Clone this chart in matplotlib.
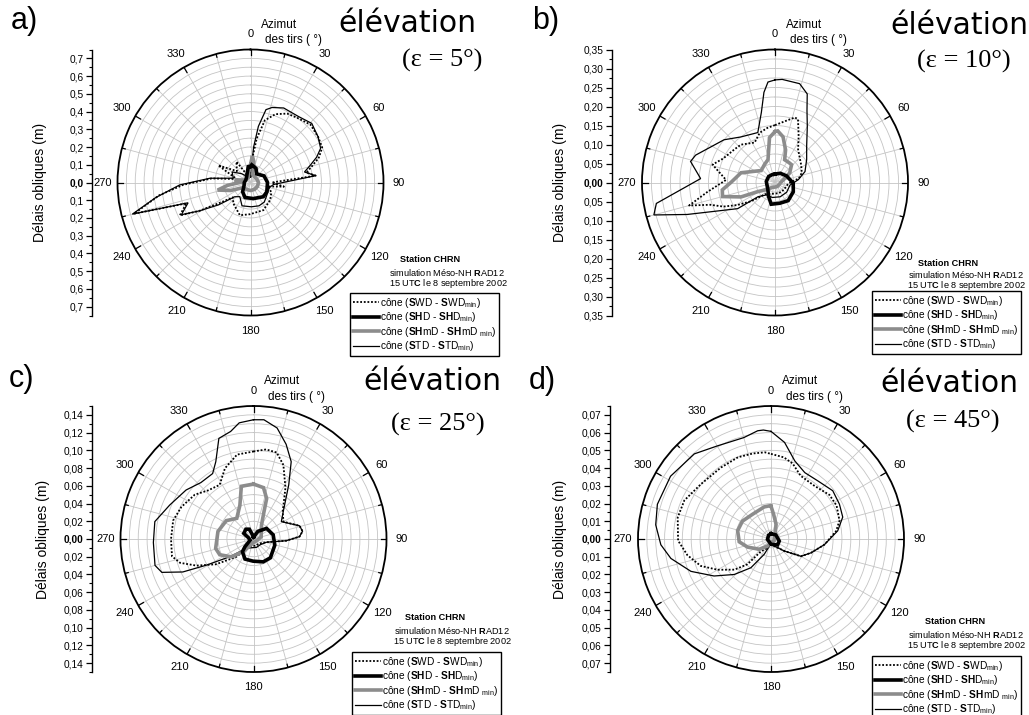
import numpy as np
import matplotlib
matplotlib.use('Agg')
import matplotlib.pyplot as plt
from matplotlib.lines import Line2D

plt.rcParams['font.family'] = ['Liberation Sans', 'DejaVu Sans']
plt.rcParams['mathtext.fontset'] = 'custom'
plt.rcParams['mathtext.rm'] = 'Liberation Sans'
plt.rcParams['mathtext.bf'] = 'Liberation Sans:bold'
plt.rcParams['mathtext.it'] = 'Liberation Sans:italic'
plt.rcParams['mathtext.sf'] = 'Liberation Sans'

# ---------------- data (azimuth in degrees, slant delays in m) ----------------
# panel a) elevation 5 deg
A_SWD_ANG = [0, 5, 8, 13, 20, 28, 36, 46, 56, 64, 70, 75, 80, 84, 90, 97, 103, 115, 132, 155, 181, 198,
             219, 230, 236, 241, 245, 252, 255, 262, 268, 276, 284, 298, 310, 326, 335, 345]
A_SWD_VAL = [0.03, 0.15, 0.25, 0.36, 0.41, 0.44, 0.45, 0.47, 0.46, 0.45, 0.41, 0.36, 0.32, 0.37, 0.12, 0.19,
             0.10, 0.13, 0.149, 0.172, 0.179, 0.194, 0.153, 0.13, 0.20, 0.33, 0.44, 0.38, 0.68, 0.52, 0.38,
             0.22, 0.08, 0.206, 0.10, 0.142, 0.05, 0.03]
A_SHD_ANG = [0, 4, 21, 36, 64, 90, 120, 138, 170, 200, 220, 245, 270, 300, 327, 352]
A_SHD_VAL = [0.09, 0.10, 0.086, 0.06, 0.085, 0.096, 0.106, 0.108, 0.092, 0.09, 0.069, 0.04, 0.035, 0.03,
             0.04, 0.09]
A_SHMD_ANG = [0, 4, 9, 15, 30, 60, 90, 120, 150, 180, 210, 235, 248, 257, 263, 270, 280, 290, 310, 335, 350]
A_SHMD_VAL = [0.10, 0.15, 0.12, 0.05, 0.04, 0.04, 0.045, 0.045, 0.045, 0.045, 0.045, 0.05, 0.12, 0.19,
              0.13, 0.06, 0.09, 0.04, 0.03, 0.03, 0.06]
A_STD_ANG = [0, 5, 8, 12, 16, 24, 36, 46, 56, 64, 69, 74, 79, 84, 95, 105, 132, 145, 160, 178, 200, 217,
             228, 235, 241, 245, 252, 255, 261, 268, 276, 284, 300, 315, 330, 345]
A_STD_VAL = [0.03, 0.20, 0.32, 0.42, 0.44, 0.46, 0.46, 0.48, 0.46, 0.44, 0.40, 0.35, 0.31, 0.37, 0.13,
             0.11, 0.12, 0.135, 0.14, 0.137, 0.14, 0.10, 0.12, 0.22, 0.33, 0.43, 0.37, 0.69, 0.54, 0.40,
             0.23, 0.10, 0.12, 0.07, 0.04, 0.03]

# panel b) elevation 10 deg
B_SWD_ANG = [0, 9, 17, 20, 27, 35, 45, 56, 70, 80, 95, 130, 160, 190, 220, 232, 239, 245, 251, 255,
             262, 273, 286, 295, 309, 318, 333, 343, 352]
B_SWD_VAL = [0.151, 0.163, 0.179, 0.177, 0.137, 0.106, 0.092, 0.083, 0.075, 0.064, 0.035, 0.03, 0.03,
             0.03, 0.04, 0.08, 0.115, 0.15, 0.18, 0.234, 0.18, 0.129, 0.171, 0.15, 0.138, 0.134, 0.118,
             0.137, 0.145]
B_SHD_ANG = [0, 9, 30, 60, 92, 117, 144, 167, 190, 204, 230, 260, 277, 313, 340]
B_SHD_VAL = [0.022, 0.023, 0.028, 0.035, 0.048, 0.054, 0.059, 0.056, 0.058, 0.041, 0.025, 0.022, 0.023,
             0.023, 0.022]
B_SHMD_ANG = [0, 3, 10, 18, 23, 35, 43, 57, 70, 90, 120, 150, 180, 210, 231, 242, 247, 255, 262, 271,
              286, 311, 330, 343, 353]
B_SHMD_VAL = [0.134, 0.136, 0.122, 0.09, 0.065, 0.064, 0.064, 0.046, 0.025, 0.015, 0.012, 0.012, 0.012,
              0.015, 0.03, 0.051, 0.097, 0.143, 0.14, 0.114, 0.093, 0.048, 0.055, 0.063, 0.119]
B_STD_ANG = [0, 4, 14, 20, 24, 30, 41, 54, 70, 83, 100, 130, 160, 190, 215, 230, 235, 250, 255, 260,
             273, 284, 289, 310, 323, 341, 349, 353, 356]
B_STD_VAL = [0.27, 0.272, 0.268, 0.248, 0.207, 0.17, 0.127, 0.103, 0.084, 0.062, 0.04, 0.04, 0.04, 0.04,
             0.04, 0.058, 0.12, 0.246, 0.33, 0.317, 0.196, 0.229, 0.221, 0.175, 0.15, 0.139, 0.188, 0.239,
             0.265]

# panel c) elevation 25 deg
C_SWD_ANG = [0, 8, 15, 22, 32, 47, 60, 74, 81, 87, 93, 104, 130, 160, 190, 211, 224, 236, 245, 252, 258,
             270, 283, 294, 307, 317, 328, 338, 349]
C_SWD_VAL = [0.0987, 0.102, 0.101, 0.090, 0.068, 0.045, 0.039, 0.054, 0.056, 0.052, 0.037, 0.015, 0.008,
             0.008, 0.008, 0.011, 0.028, 0.051, 0.071, 0.087, 0.094, 0.093, 0.093, 0.089, 0.083, 0.075,
             0.072, 0.086, 0.097]
C_SHD_ANG = [0, 30, 51, 78, 106, 138, 157, 181, 203, 221, 228, 250, 285, 300, 322, 337, 350]
C_SHD_VAL = [0.002, 0.010, 0.019, 0.0227, 0.025, 0.0285, 0.028, 0.025, 0.0246, 0.019, 0.013, 0.004,
             0.006, 0.0127, 0.014, 0.012, 0.004]
C_SHMD_ANG = [0, 11, 18, 21, 30, 74, 120, 180, 219, 231, 245, 256, 282, 304, 321, 338, 347]
C_SHMD_VAL = [0.062, 0.059, 0.048, 0.033, 0.018, 0.009, 0.004, 0.004, 0.018, 0.032, 0.042, 0.044, 0.041,
              0.037, 0.030, 0.041, 0.061]
C_STD_ANG = [0, 5, 12, 19, 26, 33, 47, 58, 74, 81, 87, 93, 104, 130, 160, 190, 217, 233, 241, 245, 250,
             255, 268, 280, 292, 306, 317, 328, 334, 341, 348, 353]
C_STD_VAL = [0.1345, 0.135, 0.128, 0.113, 0.097, 0.073, 0.046, 0.037, 0.054, 0.056, 0.052, 0.037, 0.015,
             0.01, 0.01, 0.01, 0.013, 0.033, 0.061, 0.088, 0.110, 0.115, 0.113, 0.113, 0.102, 0.094, 0.087,
             0.087, 0.097, 0.12, 0.124, 0.132]

# panel d) elevation 45 deg
D_SWD_ANG = [0, 9, 16, 25, 39, 53, 63, 75, 83, 96, 109, 120, 132, 160, 185, 205, 219, 223, 230, 240,
             249, 259, 269, 283, 294, 308, 325, 338, 348, 356]
D_SWD_VAL = [0.048, 0.0466, 0.0443, 0.0394, 0.0387, 0.0413, 0.0415, 0.040, 0.037, 0.0303, 0.0239, 0.0195,
             0.0101, 0.004, 0.003, 0.006, 0.0088, 0.0195, 0.0269, 0.0347, 0.0424, 0.048, 0.0524, 0.054,
             0.0535, 0.0502, 0.0492, 0.0497, 0.0493, 0.049]
D_SHD_ANG = [0, 51, 104, 132, 180, 264, 327]
D_SHD_VAL = [0.003, 0.0036, 0.0048, 0.005, 0.003, 0.002, 0.0025]
D_SHMD_ANG = [0, 6, 19, 53, 120, 180, 206, 229, 251, 265, 284, 302, 323, 348, 357]
D_SHMD_VAL = [0.0185, 0.014, 0.0088, 0.0028, 0.002, 0.002, 0.0044, 0.0088, 0.014, 0.018, 0.0194, 0.019,
              0.0174, 0.0185, 0.0187]
D_STD_ANG = [0, 8, 17, 27, 39, 52, 63, 73, 83, 96, 109, 120, 132, 160, 185, 204, 215, 226, 237, 248, 259,
             267, 277, 287, 302, 318, 330, 345, 353, 356]
D_STD_VAL = [0.0607, 0.055, 0.046, 0.042, 0.0421, 0.0442, 0.0433, 0.0423, 0.0379, 0.0303, 0.0239, 0.0195,
             0.0101, 0.004, 0.003, 0.0095, 0.0198, 0.0288, 0.0383, 0.0487, 0.0575, 0.0622, 0.0655, 0.067,
             0.0668, 0.0646, 0.0606, 0.0592, 0.0615, 0.0616]

AZ_LABELS = [0, 30, 60, 90, 120, 150, 180, 210, 240, 270, 300, 330]
LEG_LABELS = [r"cône ($\mathbf{S}$WD - $\mathbf{S}$WD$_{\mathrm{min}}$)",
              r"cône ($\mathbf{SH}$D - $\mathbf{SH}$D$_{\mathrm{min}}$)",
              r"cône ($\mathbf{SH}$mD - $\mathbf{SH}$mD $_{\mathrm{min}}$)",
              r"cône ($\mathbf{S}$TD - $\mathbf{S}$TD$_{\mathrm{min}}$)"]

# ---------------- styles / layout ----------------
STY = [dict(color='black', lw=1.3, ls=(0, (1, 1))),
       dict(color='black', lw=2.6, ls='-'),
       dict(color='#8c8c8c', lw=2.6, ls='-'),
       dict(color='black', lw=0.9, ls='-')]
ZORD = [4, 6, 5, 3]

W, H = 1029, 715
R = 133
fig = plt.figure(figsize=(W / 100, H / 100), dpi=100)


def fx(x):
    return x / W


def fy(y):
    return 1 - y / H


def panel(cx, cy, rmax, ring, major, minor, dec, axis_x, ylab_x, series, letter, letter_xy,
          elev_xy, eps_txt, eps_xy, station_xy, legend_xy):
    ax = fig.add_axes([fx(cx - R), fy(cy + R), 2 * R / W, 2 * R / H], projection='polar')
    ax.set_theta_zero_location('N')
    ax.set_theta_direction(-1)
    ax.set_xticks(np.deg2rad(np.arange(0, 360, 15)))
    ax.set_xticklabels([])
    ax.set_yticks(np.arange(ring, rmax - ring / 2, ring))
    ax.set_yticklabels([])
    ax.grid(True, color='#c4c4c4', lw=0.6)
    ax.set_axisbelow(True)
    ax.spines['polar'].set_linewidth(1.3)
    for (ang, val), st, z in zip(series, STY, ZORD):
        a = np.deg2rad(np.r_[ang, ang[0]])
        v = np.r_[val, val[0]]
        ax.plot(a, v, zorder=z, solid_joinstyle='miter', **st)
    for a in range(0, 360, 15):
        t = np.deg2rad(a)
        inner = 0.955 if a % 30 == 0 else 0.975
        ax.plot([t, t], [rmax * inner, rmax], color='black', lw=0.9, zorder=7)
    ax.set_ylim(0, rmax)
    for a in AZ_LABELS:
        ax.text(np.deg2rad(a), rmax * 1.115, str(a), ha='center', va='center', fontsize=8,
                clip_on=False)

    # vertical radial scale
    ay = fig.add_axes([fx(axis_x), fy(cy + R), 0.0005, 2 * R / H])
    ay.set_ylim(-rmax, rmax)
    ay.set_xticks([])
    for s in ['right', 'top', 'bottom']:
        ay.spines[s].set_visible(False)
    ay.spines['left'].set_linewidth(1.0)
    n = int(round(rmax / major + 1e-9))
    if n * major > rmax + 1e-9:
        n -= 1
    ticks = np.round(np.arange(-n, n + 1) * major, 6)
    nm = int(np.floor(rmax / minor + 1e-9))
    mticks = np.round(np.arange(-nm, nm + 1) * minor, 6)
    ay.set_yticks(ticks)
    lbls = ay.set_yticklabels([('%.*f' % (dec, abs(t))).replace('.', ',') for t in ticks])
    for t, l in zip(ticks, lbls):
        if abs(t) < 1e-12:
            l.set_fontweight('bold')
    ay.set_yticks(mticks, minor=True)
    ay.tick_params(axis='y', which='major', direction='out', length=4, width=0.9, labelsize=7.3, pad=2)
    ay.tick_params(axis='y', which='minor', direction='out', length=2.5, width=0.8)
    fig.text(fx(ylab_x), fy(cy), 'Délais obliques (m)', rotation=90, ha='center', va='center',
             fontsize=10)

    fig.text(fx(cx + 29), fy(cy - 158), 'Azimut', ha='center', va='center', fontsize=8.5)
    fig.text(fx(cx + 43), fy(cy - 142), 'des tirs ( °)', ha='center', va='center', fontsize=8.5)
    fig.text(fx(letter_xy[0]), fy(letter_xy[1]), letter, ha='center', va='center', fontsize=22)
    fig.text(fx(elev_xy[0]), fy(elev_xy[1]), 'élévation', ha='center', va='center', fontsize=21.5,
             family='DejaVu Sans')
    fig.text(fx(eps_xy[0]), fy(eps_xy[1]), eps_txt, ha='center', va='center', fontsize=19,
             family='Liberation Serif')
    st_lines = ['Station CHRN', r'simulation Méso-NH $\mathbf{R}$AD12',
                r'15 UT$\mathbf{C}$ le 8 septembre 2002']
    for (x, y), txt, bold in zip(station_xy, st_lines, [True, False, False]):
        fig.text(fx(x), fy(y), txt, ha='center', va='center', fontsize=6.6,
                 fontweight='bold' if bold else 'normal')
    handles = [Line2D([], [], **st) for st in STY]
    leg = fig.legend(handles, LEG_LABELS, loc='upper left', bbox_to_anchor=(fx(legend_xy[0]), fy(legend_xy[1])),
                     frameon=True, fancybox=False, edgecolor='black', framealpha=1, fontsize=7.3,
                     handlelength=2.6, handletextpad=0.15, labelspacing=0.06, borderpad=0.25,
                     borderaxespad=0, handleheight=0.6)
    leg.get_frame().set_linewidth(1.0)


panel(250.5, 182.5, 0.75, 0.05, 0.1, 0.05, 1, 92, 40,
      [(A_SWD_ANG, A_SWD_VAL), (A_SHD_ANG, A_SHD_VAL), (A_SHMD_ANG, A_SHMD_VAL), (A_STD_ANG, A_STD_VAL)],
      'a)', (24, 21), (407, 24), '(ε = 5°)', (442, 60),
      [(430, 260), (447, 273), (448, 284)], (350, 293))
panel(775, 182.5, 0.35, 0.025, 0.05, 0.025, 2, 612, 560,
      [(B_SWD_ANG, B_SWD_VAL), (B_SHD_ANG, B_SHD_VAL), (B_SHMD_ANG, B_SHMD_VAL), (B_STD_ANG, B_STD_VAL)],
      'b)', (546, 21), (959, 25), '(ε = 10°)', (964, 61),
      [(948, 263), (966, 275), (966, 286)], (872, 291))
panel(253.5, 539, 0.15, 0.01, 0.02, 0.01, 2, 92, 43,
      [(C_SWD_ANG, C_SWD_VAL), (C_SHD_ANG, C_SHD_VAL), (C_SHMD_ANG, C_SHMD_VAL), (C_STD_ANG, C_STD_VAL)],
      'c)', (22, 379), (432, 381), '(ε = 25°)', (438, 424),
      [(435, 618), (452, 631), (452, 642)], (352, 652))
panel(771, 539, 0.075, 0.005, 0.01, 0.005, 2, 610, 560,
      [(D_SWD_ANG, D_SWD_VAL), (D_SHD_ANG, D_SHD_VAL), (D_SHMD_ANG, D_SHMD_VAL), (D_STD_ANG, D_STD_VAL)],
      'd)', (542, 381), (949, 384), '(ε = 45°)', (953, 421),
      [(955, 622), (966, 634), (966, 645)], (872, 656))

fig.savefig('out.png', dpi=100)
